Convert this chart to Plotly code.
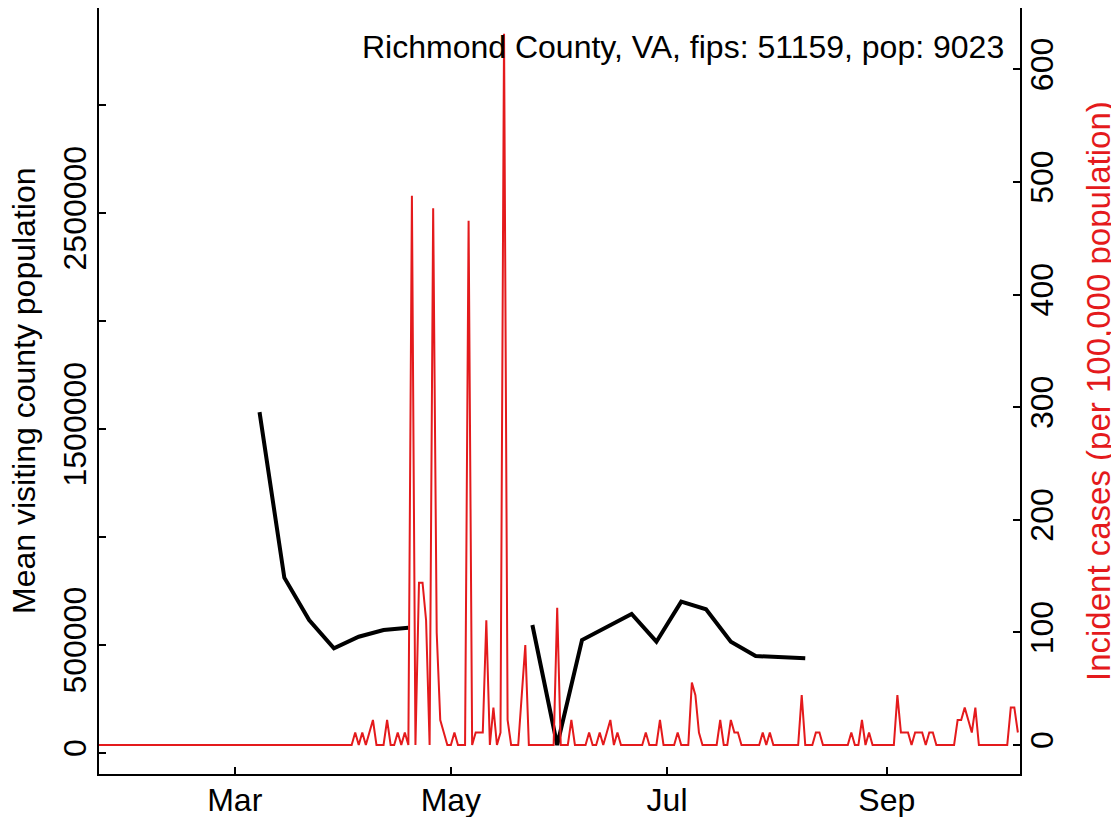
import pandas as pd
import plotly.graph_objects as go

# weekly mean visiting population (black line), None = no data
visit_dates = ["2020-03-08", "2020-03-15", "2020-03-22", "2020-03-29", "2020-04-05",
               "2020-04-12", "2020-04-19", "2020-05-10", "2020-05-24", "2020-05-31",
               "2020-06-07", "2020-06-14", "2020-06-21", "2020-06-28", "2020-07-05",
               "2020-07-12", "2020-07-19", "2020-07-26", "2020-08-02", "2020-08-09"]
visit_values = [1578000, 811600, 615700, 484700, 538400,
                569400, 580100, None, 592600, 37000,
                523100, 583800, 643500, 515300, 700500,
                665300, 515300, 449100, 445800, 438400]

# daily incident cases per 100,000 (red line), 2020-01-22 .. 2020-10-08
cases_jan = [0, 0, 0, 0, 0, 0, 0, 0, 0, 0]
cases_feb = [0, 0, 0, 0, 0, 0, 0, 0, 0, 0,
             0, 0, 0, 0, 0, 0, 0, 0, 0, 0,
             0, 0, 0, 0, 0, 0, 0, 0, 0]
cases_mar = [0, 0, 0, 0, 0, 0, 0, 0, 0, 0,
             0, 0, 0, 0, 0, 0, 0, 0, 0, 0,
             0, 0, 0, 0, 0, 0, 0, 0, 0, 0, 0]
cases_apr = [0, 0, 0, 11.1, 0, 11.1, 0, 11.1, 22.2, 0,
             0, 0, 22.2, 0, 0, 11.1, 0, 11.1, 0, 487.6,
             0, 144.1, 144.1, 110.8, 0, 476.5, 99.7, 22.2, 11.1, 0]
cases_may = [0, 11.1, 0, 0, 0, 465.4, 0, 11.1, 11.1, 11.1,
             110.8, 0, 33.2, 0, 11.1, 631.6, 22.2, 0, 0, 0,
             44.3, 88.7, 0, 0, 0, 0, 0, 0, 0, 0, 121.9]
cases_jun = [0, 0, 0, 22.2, 0, 0, 0, 0, 11.1, 0,
             0, 11.1, 0, 11.1, 22.2, 0, 11.1, 0, 0, 0,
             0, 0, 0, 0, 11.1, 0, 0, 0, 22.2, 0]
cases_jul = [0, 0, 0, 11.1, 0, 0, 0, 55.4, 44.3, 11.1,
             0, 0, 0, 0, 0, 22.2, 0, 0, 22.2, 11.1,
             11.1, 0, 0, 0, 0, 0, 0, 11.1, 0, 11.1, 0]
cases_aug = [0, 0, 0, 0, 0, 0, 0, 44.3, 0, 0,
             0, 11.1, 11.1, 0, 0, 0, 0, 0, 0, 0,
             0, 11.1, 0, 0, 22.2, 0, 11.1, 0, 0, 0, 0]
cases_sep = [0, 0, 0, 44.3, 11.1, 11.1, 11.1, 0, 11.1, 11.1,
             11.1, 0, 11.1, 11.1, 0, 0, 0, 0, 0, 0,
             22.2, 22.2, 33.2, 22.2, 11.1, 33.2, 0, 0, 0, 0]
cases_oct = [0, 0, 0, 0, 0, 33.2, 33.2, 11.1]

case_values = (cases_jan + cases_feb + cases_mar + cases_apr + cases_may
               + cases_jun + cases_jul + cases_aug + cases_sep + cases_oct)
case_dates = pd.date_range("2020-01-22", "2020-10-08", freq="D")

month_ticks = ["2020-03-01", "2020-05-01", "2020-07-01", "2020-09-01"]
month_labels = ["Mar", "May", "Jul", "Sep"]
left_ticks = [0, 500000, 1000000, 1500000, 2000000, 2500000, 3000000]
left_labels = ["0", "500000", "", "1500000", "", "2500000", ""]
right_ticks = [0, 100, 200, 300, 400, 500, 600]

RED = "#e41a1c"
FONT = "Liberation Sans, Arial, sans-serif"

fig = go.Figure()
fig.add_trace(go.Scatter(x=visit_dates, y=visit_values, mode="lines",
                         line=dict(color="black", width=4), connectgaps=False,
                         yaxis="y", showlegend=False))
fig.add_trace(go.Scatter(x=case_dates, y=case_values, mode="lines",
                         line=dict(color=RED, width=2, simplify=False),
                         yaxis="y2", showlegend=False))

axis_common = dict(showgrid=False, zeroline=False, showline=True, linecolor="black",
                   linewidth=2, ticks="inside", ticklen=7, tickwidth=2, automargin=False,
                   tickcolor="black", tickfont=dict(size=32, color="black"))

# page body adds an 8px offset, margins below account for it
fig.update_layout(
    width=1119, height=817, autosize=False,
    margin=dict(l=91, r=107, t=0, b=51, pad=0),
    paper_bgcolor="white", plot_bgcolor="white",
    font=dict(family=FONT, color="black"),
    xaxis=dict(range=["2020-01-22 16:48", "2020-10-08 14:24"], tickvals=month_ticks,
               ticktext=month_labels, mirror=True, ticklabelstandoff=-3, **axis_common),
    yaxis=dict(range=[-97200, 3449000], tickvals=left_ticks, ticktext=left_labels,
               tickangle=-90, ticklabelstandoff=-2, **axis_common),
    yaxis2=dict(range=[-25.75, 654.4], tickvals=right_ticks, overlaying="y", side="right",
                tickangle=-90, ticklabelstandoff=-7, **axis_common),
    annotations=[
        dict(text="Richmond County, VA, fips: 51159, pop: 9023", xref="paper", yref="paper",
             x=1, y=1, xanchor="right", yanchor="top", xshift=-14, yshift=-19,
             showarrow=False, font=dict(size=32, color="black")),
        dict(text="Mean visiting county population", xref="paper", yref="paper",
             x=0, y=0.5, xanchor="center", yanchor="middle", xshift=-75, textangle=-90,
             showarrow=False, font=dict(size=32, color="black")),
        dict(text="Incident cases (per 100,000 population)", xref="paper", yref="paper",
             x=1, y=0.5, xanchor="center", yanchor="middle", xshift=78, textangle=-90,
             showarrow=False, font=dict(size=33, color=RED)),
    ],
)

fig.write_html("out.html")
